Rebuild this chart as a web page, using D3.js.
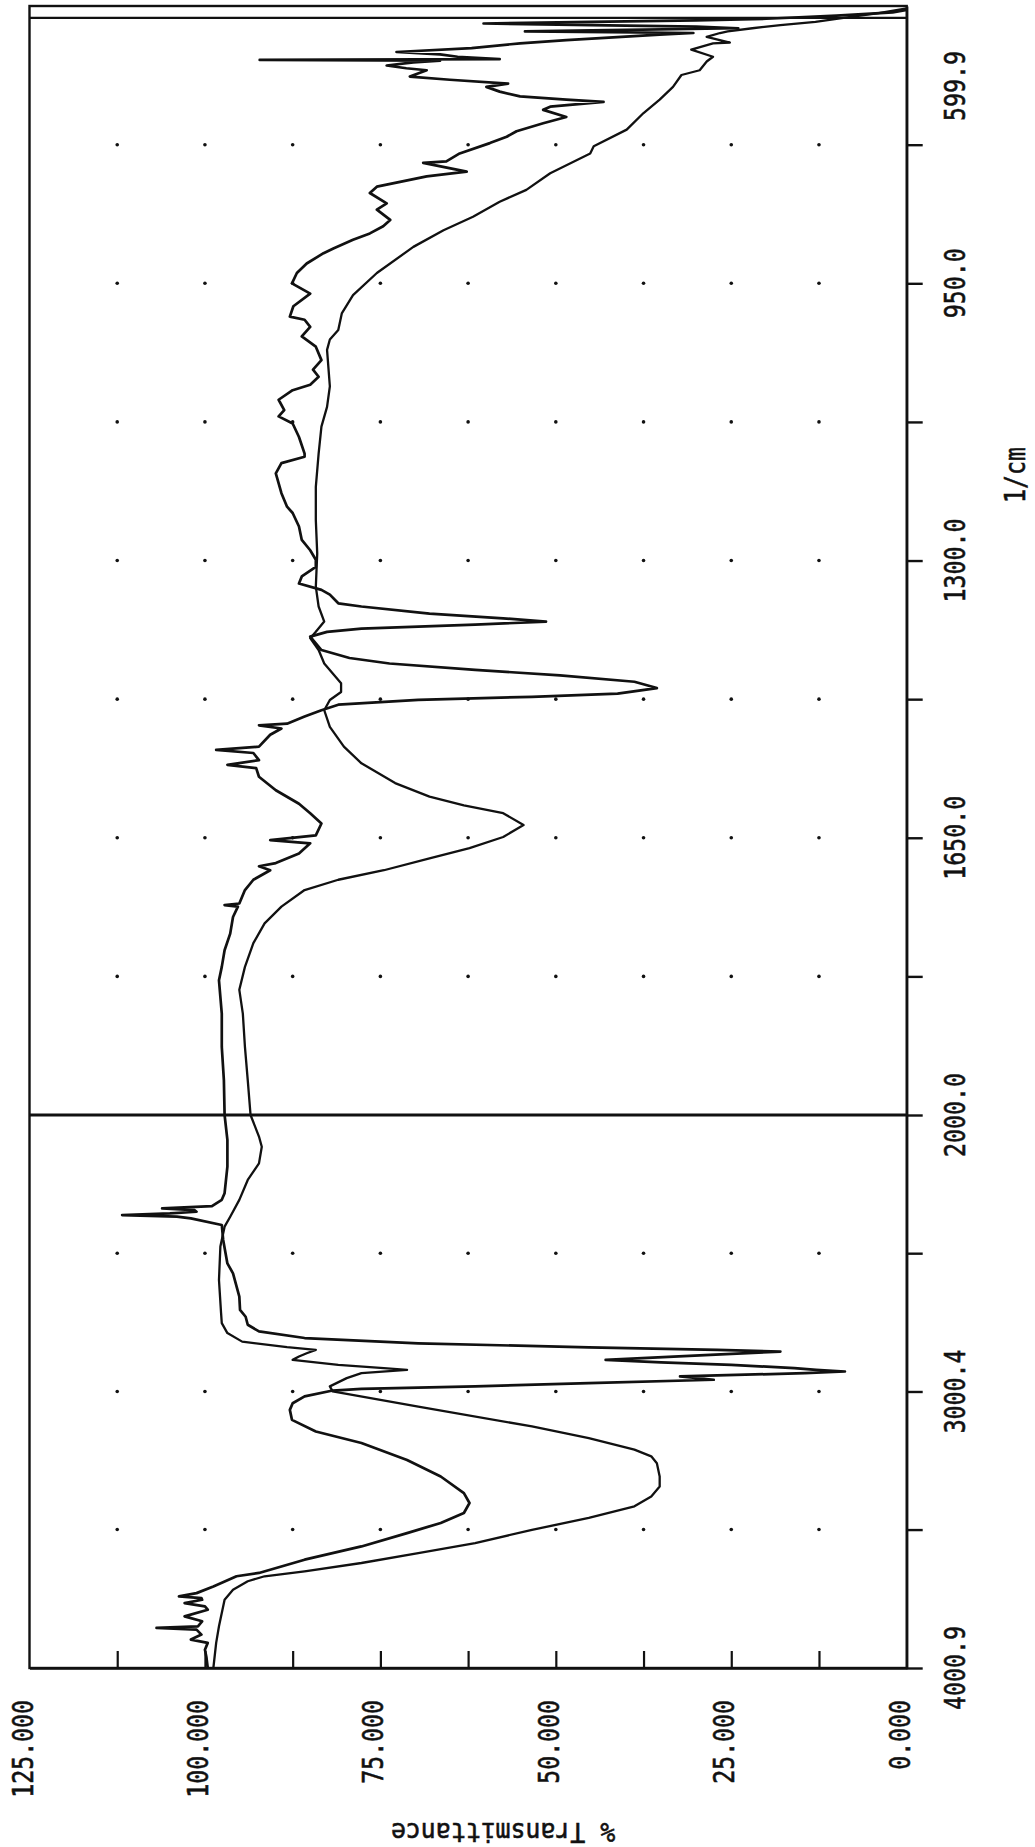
<!DOCTYPE html>
<html><head><meta charset="utf-8">
<script src="https://cdn.jsdelivr.net/npm/d3@7"></script>
<style>html,body{margin:0;padding:0;background:#fff;} svg{display:block;}</style>
</head><body>
<svg id="chart" width="1035" height="1847"></svg>
<script>
// ---- Data (wavenumber in 1/cm, transmittance in %) ----
const waveA = [603,609,615,620,624,628,632,634,639,646,647,655,664,670,681,687,702,718,735,756,777,786,811,832,847,866,883,904,937,965,988,1009,1021,1034,1080,1106,1131,1165,1207,1249,1291,1333,1358,1377,1390,1398,1413,1430,1455,1466,1476,1489,1510,1535,1556,1581,1598,1609,1619,1634,1649,1663,1676,1691,1703,1716,1737,1758,1783,1813,1842,1872,1914,1956,2000,2078,2115,2175,2235,2307,2368,2404,2476,2597,2717,2753,2789,2820,2840,2850,2862,2874,2886,2904,2916,2922,2934,2952,2982,3000,3055,3127,3169,3211,3235,3260,3308,3344,3380,3416,3458,3501,3549,3585,3621,3651,3669,3687,3718,3754,3850,3910,4000.9];
const transA = [0,4,9,13,18,22,25.5,26.6,28.5,25.2,27.6,30.7,27.6,28.5,29.5,32.1,33.3,35.2,37.5,39.9,44.6,45.1,50.8,54.2,58.0,61.8,66.0,70.3,75.5,78.9,80.5,81.0,82.2,82.6,82.2,82.6,83.4,83.8,84.2,84.2,84.0,84.2,83.8,83.0,84.2,85.0,83.8,83.0,80.6,80.6,82.2,83.0,82.2,80.2,77.7,72.9,68.0,63.1,57.5,54.6,57.5,62.3,68.0,74.5,81.0,85.8,89.1,91.5,93.1,94.3,95.1,94.6,94.3,93.9,93.5,92.3,91.9,92.3,93.9,95.1,96.4,97.2,97.8,98.0,97.7,97.6,96.8,94.7,88.3,84.2,85.5,86.6,87.5,81.0,74.5,71.2,77.7,79.8,82.2,81.8,69.6,53.4,45.3,38.8,36.4,35.6,35.2,35.2,36.4,38.8,45.3,53.4,61.5,69.6,77.7,85.8,91.5,93.9,96.0,97.2,98.0,98.4,98.8];

const waveB = [605,608,612,616,618,620,622,624,626,628,630,632,634,636,643,647,653,658,661,664,667,668,669,671,675,678.5,681,689,693,698,702,708,714,718,721,727,731,740,748,758,765,773,786,796,798,809,815,822,828,836,849,857,870,878,887,895,906,912,925,937,950,963,979,992,996,1005,1017,1030,1047,1059,1068,1078,1085,1097,1110,1118,1127,1144,1165,1169,1177,1190,1215,1232,1240,1257,1274,1287,1299,1308,1320,1329,1337,1343,1354,1358,1367,1373,1377,1381,1386,1390,1396,1413,1423,1430,1438,1445,1453,1461,1468,1472,1476,1482,1489,1497,1506,1508,1512,1520,1535,1539,1543,1552,1558,1562,1573,1590,1607,1619,1632,1647,1653,1657,1670,1682,1686,1691,1703,1716,1733,1735,1737,1750,1771,1792,1813,1830,1872,1914,1956,2000,2090,2187,2283,2307,2330,2338,2344,2350,2356,2362,2368,2374,2398,2452,2537,2573,2657,2705,2730,2759,2783,2807,2826,2841,2850,2856,2868,2886,2895,2904,2916,2922,2928,2934,2946,2958,2970,2982,2991,2997,3018,3043,3067,3103,3145,3187,3248,3308,3368,3404,3440,3476,3513,3561,3609,3657,3669,3706,3730,3742,3748,3754,3766,3778,3790,3814,3832,3850,3856,3862,3880,3898,3910,3935,3960,4000.9];
const transB = [0,2,10,20,30,45,60.3,45,30,24,40,54.4,30.4,35.2,48.5,55.1,62,72.7,66.5,64,58,92.2,66.5,70.3,74.1,71.3,68.4,70.8,65.1,56.8,59.9,58.0,55.1,48.5,43.2,50.8,51.8,48.5,51.8,55.6,57.0,59.4,63.7,65.6,68.9,62.7,68.4,72.2,75.5,76.5,74.1,75.5,73.6,74.6,76.5,78.9,81.7,83.1,85.5,86.9,87.6,85.0,87.4,87.9,85.8,85.0,86.2,84.2,83.4,84.6,83.8,85.0,87.5,89.5,88.7,89.5,87.5,86.6,85.8,85.8,89.1,89.9,89.1,88.3,87.5,86.6,86.2,85.0,84.2,84.2,86.2,86.6,83.4,82.2,81.0,77.7,68.0,57.5,51.4,61.5,77.7,82.6,85.0,83.4,79.4,73.7,61.5,49.4,38.8,35.6,41.2,53.4,69.6,81.0,83.4,85.8,88.3,92.3,89.1,90.7,92.3,98.4,93.1,92.3,96.8,92.7,92.3,89.9,86.6,85.0,83.4,84.2,90.7,85.0,86.6,89.9,92.3,90.7,93.1,94.3,95.1,97.2,95.3,96.0,96.4,97.2,97.6,98.0,97.6,97.6,97.3,97.2,96.8,96.8,97.2,97.6,99,106.1,101.5,101.2,105,111.8,104,102.0,97.6,97.4,96.8,96.0,95.1,95.0,94.2,93.9,92.3,85.8,69.6,45.3,27,18,28,42.9,35,25.0,16,12.9,8.8,14.5,32.3,27.5,45.3,61.5,77.7,81.8,85.8,87.5,87.9,87.6,84.2,77.7,71.2,66.4,63.1,62.3,63.1,66.4,71.2,77.7,85.8,92.3,95.5,98.8,101.2,103.7,100.5,100.4,102.9,100,99.6,102.9,100.4,101,106.9,101.2,100.5,102.0,99.6,100.0,99.8,99.6];

const transTicks = [0, 25, 50, 75, 100, 125];
const transTickLabels = ["0.000", "25.000", "50.000", "75.000", "100.000", "125.000"];
const transMinorTicks = [12.5, 25, 37.5, 50, 62.5, 75, 87.5, 100, 112.5];
const waveTicks = [775, 950, 1125, 1300, 1475, 1650, 1825, 2000, 2500, 3000.4, 3500, 4000.9];
const waveLabelValues = [599.9, 950, 1300, 1650, 2000, 3000.4, 4000.9];
const waveLabels = ["599.9", "950.0", "1300.0", "1650.0", "2000.0", "3000.4", "4000.9"];
const gridWaves = [775, 950, 1125, 1300, 1475, 1650, 1825, 2500, 3000.4, 3500];
const gridTrans = [12.5, 25, 37.5, 50, 62.5, 75, 87.5, 100, 112.5];
const waveDomain = [4000.9, 2000, 599.9];
const breakWave = 2000;
const limitWave = 615;
const transTitle = "% Transmittance";
const waveTitle = "1/cm";

// ---- Layout ----
const svg = d3.select("#chart");
svg.append("rect").attr("width", 1035).attr("height", 1847).attr("fill", "#fff");

const xT = d3.scaleLinear().domain([0, 125]).range([906.7, 29.5]);
const yW = d3.scaleLinear().domain(waveDomain).range([1668, 1115, 6]);

const pLeft = xT(125), pRight = xT(0), pTop = yW(599.9), pBottom = yW(4000.9);
const ink = "#111";
const font = "'DejaVu Sans Mono', 'Liberation Mono', monospace";

// grid dots
const dots = [];
gridWaves.forEach(w => gridTrans.forEach(t => dots.push({w, t})));
svg.append("g").selectAll("circle").data(dots).join("circle")
  .attr("cx", d => xT(d.t)).attr("cy", d => yW(d.w)).attr("r", 1.8).attr("fill", ink);

// spectra
const line = d3.line().x(d => xT(d.t)).y(d => yW(d.w));
const serA = waveA.map((w, i) => ({w, t: transA[i]}));
const serB = waveB.map((w, i) => ({w, t: transB[i]}));
svg.append("path").datum(serA).attr("d", line).attr("fill", "none")
  .attr("stroke", ink).attr("stroke-width", 2.3).attr("stroke-linejoin", "round");
svg.append("path").datum(serB).attr("d", line).attr("fill", "none")
  .attr("stroke", ink).attr("stroke-width", 2.7).attr("stroke-linejoin", "round");

// frame
svg.append("rect").attr("x", pLeft).attr("y", pTop).attr("width", pRight - pLeft).attr("height", pBottom - pTop)
  .attr("fill", "none").attr("stroke", ink).attr("stroke-width", 2.4);
svg.append("line").attr("x1", pLeft).attr("x2", pRight).attr("y1", yW(limitWave)).attr("y2", yW(limitWave))
  .attr("stroke", ink).attr("stroke-width", 2.2);
svg.append("line").attr("x1", pLeft).attr("x2", pRight).attr("y1", yW(breakWave)).attr("y2", yW(breakWave))
  .attr("stroke", ink).attr("stroke-width", 3);

// axes
const axR = svg.append("g").attr("transform", `translate(${pRight},0)`)
  .call(d3.axisRight(yW).tickValues(waveTicks).tickSize(16).tickSizeOuter(0).tickFormat(""));
axR.select(".domain").attr("stroke", ink).attr("stroke-width", 2.4);
axR.selectAll(".tick line").attr("stroke", ink).attr("stroke-width", 2.4);

const axB = svg.append("g").attr("transform", `translate(0,${pBottom})`)
  .call(d3.axisBottom(xT).tickValues(transMinorTicks).tickSizeInner(-17).tickSizeOuter(0).tickFormat(""));
axB.select(".domain").attr("stroke", ink).attr("stroke-width", 2.6);
axB.selectAll(".tick line").attr("stroke", ink).attr("stroke-width", 2.2);

// labels
function rtext(x, y, rot, sx, anchor, fs, str) {
  svg.append("text")
    .attr("transform", `translate(${x},${y}) rotate(${rot}) scale(${sx},1)`)
    .attr("text-anchor", anchor).attr("font-family", font).attr("font-size", fs)
    .attr("fill", ink).attr("stroke", ink).attr("stroke-width", 0.6).text(str);
}
transTicks.forEach((t, i) => rtext(xT(t) + 3, pBottom + 32, -90, 0.8, "end", 29, transTickLabels[i]));
waveLabelValues.forEach((w, i) => {
  const y = (w === 599.9) ? yW(w) + 80 : yW(w);
  rtext(pRight + 58, y, -90, 0.8, "middle", 29, waveLabels[i]);
});
rtext(pRight + 118, yW(1192), -90, 0.8, "middle", 29, waveTitle);
rtext((pLeft + pRight) / 2 + 35, pBottom + 155, 180, 0.92, "middle", 27, transTitle);
</script>
</body></html>
